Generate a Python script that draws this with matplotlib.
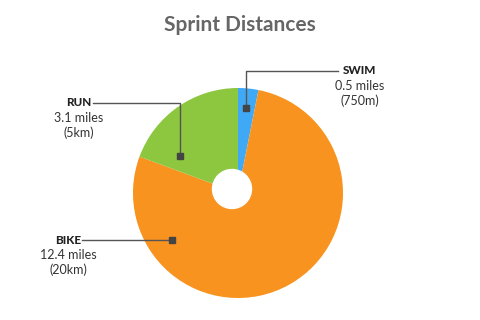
import matplotlib
matplotlib.use("Agg")
import matplotlib.pyplot as plt
from matplotlib.patches import Circle
import numpy as np

# Data
categories = ["SWIM", "BIKE", "RUN"]
miles = [0.5, 12.4, 3.1]
metric = ["750m", "20km", "5km"]
colors = ["#3FA9F5", "#F7931E", "#8DC63F"]

W, H = 480, 320
fig = plt.figure(figsize=(4.8, 3.2), dpi=100)
ax = fig.add_axes([0, 0, 1, 1])

cx, cy, R = 238, H - 193, 105
wedges, _ = ax.pie(miles, colors=colors, startangle=90, counterclock=False,
                   center=(cx, cy), radius=R, frame=True,
                   wedgeprops=dict(linewidth=0))
ax.set_xlim(0, W)
ax.set_ylim(0, H)
ax.set_aspect("equal")
ax.axis("off")
ax.add_patch(Circle((232, H - 189), 19.5, color="white", zorder=5))

ax.text(W / 2, H - 25, "Sprint Distances", ha="center", va="center",
        fontsize=15, fontweight="bold", color="#666666", family="Lato")

# label layout: (marker angle deg, marker radius frac, elbow y px, line end x, text center x)
layout = {
    "SWIM": dict(ang=84.6, rf=0.81, ly=71, lx_end=338, tx=360),
    "RUN": dict(ang=147.5, rf=0.655, ly=103, lx_end=93, tx=79),
    "BIKE": dict(ang=215.5, rf=0.77, ly=240, lx_end=82, tx=68),
}
lc = "#555555"
for cat, m, met in zip(categories, miles, metric):
    L = layout[cat]
    a = np.deg2rad(L["ang"])
    mx = cx + L["rf"] * R * np.cos(a)
    my = cy + L["rf"] * R * np.sin(a)
    ly = H - L["ly"]
    if abs(my - ly) > 3:
        ax.plot([mx, mx, L["lx_end"]], [my, ly, ly], color=lc, lw=1, zorder=6)
    else:
        ax.plot([mx, L["lx_end"]], [ly, ly], color=lc, lw=1, zorder=6)
        my = ly
    ax.plot([mx], [my], marker="s", ms=5, color="#444444", zorder=7)
    ax.text(L["tx"], ly, cat, ha="center", va="center", fontsize=8.5,
            fontweight="black", color="#222222", family="Lato")
    ax.text(L["tx"], ly - 15, f"{m} miles", ha="center", va="center",
            fontsize=9, color="#333333", family="Lato")
    ax.text(L["tx"], ly - 30, f"({met})", ha="center", va="center",
            fontsize=9, color="#333333", family="Lato")

fig.savefig("out.png", dpi=100, facecolor="white")
